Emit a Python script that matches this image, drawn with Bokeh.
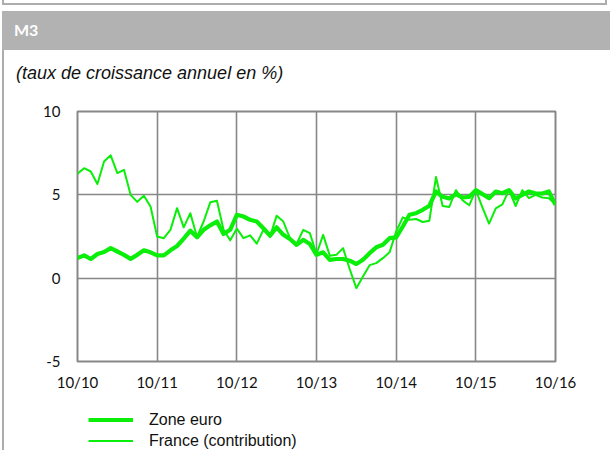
from bokeh.plotting import figure
from bokeh.models import Div, Legend, FixedTicker, Row, Column
from bokeh.embed import file_html
from bokeh.resources import INLINE

# ---- data (monthly, Oct 2010 .. Oct 2016) ----
months = list(range(73))
zone_euro = [1.2, 1.37, 1.15, 1.45, 1.57, 1.8, 1.6, 1.4, 1.16, 1.4, 1.67, 1.55,
             1.37, 1.37, 1.67, 1.93, 2.37, 2.85, 2.45, 2.9, 3.17, 3.4, 2.65, 2.9,
             3.8, 3.7, 3.5, 3.4, 3.0, 2.55, 3.05, 2.6, 2.35, 2.0, 2.3, 2.05,
             1.4, 1.55, 1.1, 1.15, 1.15, 1.05, 0.85, 1.1, 1.5, 1.85, 2.0, 2.4,
             2.45, 3.1, 3.8, 3.9, 4.1, 4.35, 5.2, 4.88, 4.78, 5.04, 4.84, 4.88,
             5.28, 5.04, 4.8, 5.2, 5.1, 5.28, 4.78, 5.0, 5.2, 5.08, 5.08, 5.2,
             4.4]
france = [6.27, 6.6, 6.4, 5.65, 7.0, 7.37, 6.3, 6.5, 5.0, 4.58, 4.95, 4.3,
          2.5, 2.4, 2.9, 4.2, 3.05, 3.9, 2.47, 3.4, 4.55, 4.65, 2.9, 2.27,
          2.97, 2.4, 2.57, 2.07, 2.9, 2.5, 3.75, 3.4, 2.4, 2.05, 2.9, 2.7,
          1.45, 2.6, 1.35, 1.4, 1.8, 0.55, -0.6, 0.1, 0.78, 0.9, 1.2, 1.55,
          2.8, 3.65, 3.5, 3.55, 3.37, 3.45, 6.07, 4.33, 4.27, 5.28, 4.68, 4.37,
          5.28, 4.23, 3.27, 4.19, 4.43, 5.28, 4.33, 5.28, 4.8, 5.0, 4.84, 4.8,
          4.43]
x_ticks = [0, 12, 24, 36, 48, 60, 72]
x_tick_labels = ["10/10", "10/11", "10/12", "10/13", "10/14", "10/15", "10/16"]
y_ticks = [-5, 0, 5, 10]
y_tick_labels = ["-5", "0", "5", "10"]
series_names = ["Zone euro", "France (contribution)"]

title_text = "M3"
subtitle_text = "(taux de croissance annuel en %)"

GREEN = "#0aee0a"
GRID = "#878787"
FRAME = "#adadad"

header_html = f"""
<div style="position:relative;width:610px;height:85px;margin:0;padding:0;">
  <div style="position:absolute;left:2px;top:0;width:2px;height:5px;background:{FRAME};"></div>
  <div style="position:absolute;left:605px;top:0;width:2px;height:5px;background:{FRAME};"></div>
  <div style="position:absolute;left:2px;top:3px;width:605px;height:2px;background:{FRAME};"></div>
  <div style="position:absolute;left:2px;top:11px;width:608px;height:39px;background:#b2b2b2;">
    <span style="position:absolute;left:12px;top:10px;color:#ffffff;font-family:Lato,sans-serif;font-weight:bold;font-size:16px;line-height:18px;">{title_text}</span>
  </div>
  <div style="position:absolute;left:2px;top:50px;width:2px;height:35px;background:{FRAME};"></div>
  <div style="position:absolute;left:16px;top:63px;font-family:'Liberation Sans',Arial,sans-serif;font-style:italic;font-size:18px;line-height:20px;color:#111;white-space:nowrap;">{subtitle_text}</div>
</div>
"""
header = Div(text=header_html, width=610, height=85, margin=0)
side_line = Div(text=f'<div style="margin-left:2px;width:2px;height:365px;background:{FRAME};"></div>',
                width=4, height=365, margin=0)

# ---- main chart ----
p = figure(width=606, height=311, output_backend="svg", toolbar_location=None,
           x_range=(0, 72), y_range=(-5, 10),
           min_border_left=73, min_border_right=55, min_border_top=26, min_border_bottom=35,
           margin=0)

r_fr = p.line(months, france, line_color=GREEN, line_width=2, line_join="round")
r_eu = p.line(months, zone_euro, line_color=GREEN, line_width=4.2, line_join="round")

p.xaxis.ticker = FixedTicker(ticks=x_ticks)
p.xaxis.major_label_overrides = dict(zip(x_ticks, x_tick_labels))
p.yaxis.ticker = FixedTicker(ticks=y_ticks)
p.yaxis.major_label_overrides = dict(zip(y_ticks, y_tick_labels))
for ax in (p.xaxis, p.yaxis):
    ax.axis_line_color = None
    ax.major_tick_line_color = None
    ax.minor_tick_line_color = None
    ax.major_tick_out = 0
    ax.major_tick_in = 0
    ax.minor_tick_out = 0
    ax.major_label_text_font = "Lato"
    ax.major_label_text_font_size = "15px"
    ax.major_label_text_color = "#111111"
p.xaxis.major_label_standoff = 11
p.yaxis.major_label_standoff = 17

p.xgrid.grid_line_color = GRID
p.ygrid.grid_line_color = GRID
p.xgrid.grid_line_width = 1.6
p.ygrid.grid_line_width = 1.6
p.outline_line_color = GRID
p.outline_line_width = 2
p.background_fill_color = "white"
p.border_fill_color = "white"

# ---- legend strip below the chart (same series, hidden, used only as legend keys) ----
lg = figure(width=606, height=54, output_backend="svg", toolbar_location=None,
            x_range=(0, 72), y_range=(-5, 10), x_axis_location=None, y_axis_location=None,
            min_border=0, margin=0)
lg.outline_line_color = None
lg.grid.visible = False
lg_eu = lg.line(months, zone_euro, line_color=GREEN, line_width=4.2, visible=False)
lg_fr = lg.line(months, france, line_color=GREEN, line_width=2, visible=False)
legend = Legend(items=[(series_names[0], [lg_eu]), (series_names[1], [lg_fr])],
                location=(11, 0), orientation="vertical",
                glyph_width=45, glyph_height=19, label_height=19, spacing=2,
                padding=0, margin=0, label_standoff=16,
                border_line_color=None, background_fill_alpha=0,
                inactive_fill_alpha=0,
                label_text_font="Liberation Sans", label_text_font_size="16px",
                label_text_color="#111111")
lg.add_layout(legend)

layout = Column(header, Row(side_line, Column(p, lg, spacing=0, margin=0), spacing=0, margin=0),
                spacing=0, margin=0)

open("out.html", "w").write(file_html(layout, INLINE))
